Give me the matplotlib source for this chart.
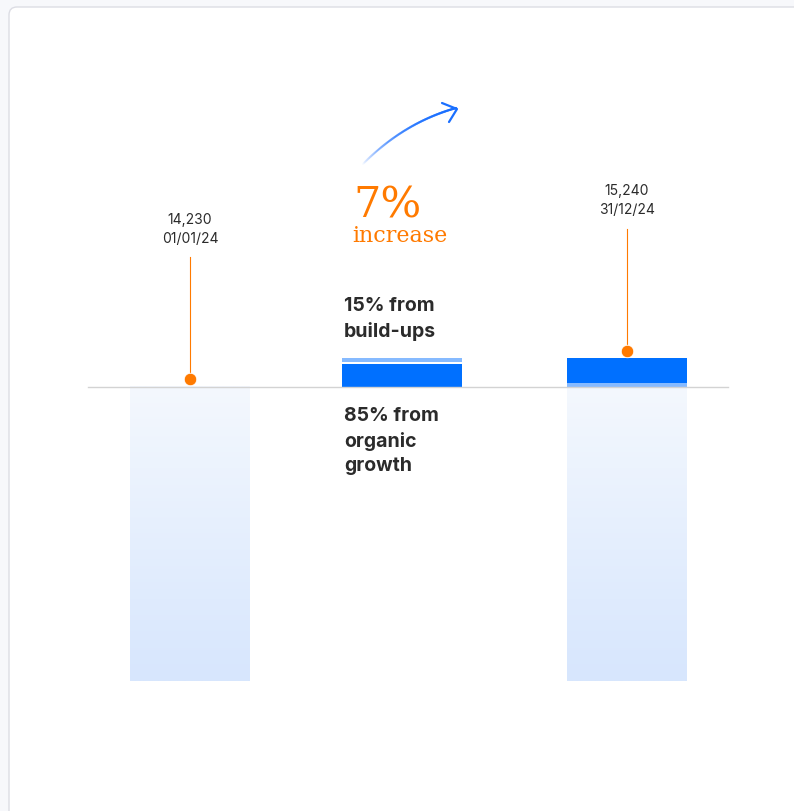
import numpy as np
import matplotlib.pyplot as plt
from matplotlib.collections import LineCollection
from matplotlib.patches import FancyBboxPatch
from matplotlib.colors import LinearSegmentedColormap, to_rgba

# data
start_value = 14230
end_value = 15240
dates = ['01/01/24', '31/12/24']
increase_pct = 7
buildup_pct = 15
organic_pct = 85

# styles / layout (pixels)
W, H = 794, 811
BLUE = '#0070ff'
LIGHT_BLUE = '#86baff'
ORANGE = '#ff7a00'
TEXT = '#2b2b2b'
SANS = 'Inter'
bar_x = [190, 402, 627]        # centres: start, change, end
bar_w = 120
baseline_px = 387
floor_px = 681
px_per_unit = 28.5 / (end_value - start_value)

fig = plt.figure(figsize=(W / 100, H / 100), dpi=100)
fig.patch.set_facecolor('#f7f8fb')

# pixel canvas for card and decorations
bg = fig.add_axes([0, 0, 1, 1])
bg.set_xlim(0, W)
bg.set_ylim(H, 0)
bg.axis('off')
bg.add_patch(FancyBboxPatch((9, 7), 900, 900, boxstyle='round,pad=0,rounding_size=8',
                            fc='white', ec='#dcdde4', lw=1))

ax = fig.add_axes([0, 0, 1, 1])
ax.patch.set_alpha(0)
ax.axis('off')


def px(n):
    return n / px_per_unit


floor_value = start_value - px(floor_px - baseline_px)
change = end_value - start_value
organic = change * organic_pct / 100
buildup = change * buildup_pct / 100

# truncated base bars with gradient
cmap = LinearSegmentedColormap.from_list('fade', ['#f4f8fe', '#d7e6fd'])
grad = np.linspace(0, 1, 256).reshape(-1, 1)
for x in (bar_x[0], bar_x[2]):
    ax.imshow(grad, cmap=cmap, aspect='auto', origin='upper',
              extent=[x - bar_w / 2, x + bar_w / 2, floor_value, start_value], zorder=1)

# change bar (middle): organic then build-ups on top
ax.bar(bar_x[1], organic - px(1), bottom=start_value, width=bar_w, color=BLUE, zorder=2)
ax.bar(bar_x[1], buildup - px(1), bottom=start_value + organic + px(1), width=bar_w,
       color=LIGHT_BLUE, zorder=2)

# end bar: build-ups at the bottom, organic on top
ax.bar(bar_x[2], buildup, bottom=start_value, width=bar_w, color=LIGHT_BLUE, zorder=2)
ax.bar(bar_x[2], organic, bottom=start_value + buildup, width=bar_w, color=BLUE, zorder=2)

# baseline
ax.plot([88, 728], [start_value, start_value], color='#d3d3d3', lw=1, zorder=3)

# value markers with labels
for x, v, d in [(bar_x[0], start_value, dates[0]), (bar_x[2], end_value, dates[1])]:
    dot = v + px(8)
    top = dot + px(122)
    ax.plot([x, x], [dot, top], color=ORANGE, lw=0.8, zorder=4)
    ax.plot(x, dot, 'o', color=ORANGE, ms=9, mec='white', mew=0.6, zorder=5)
    ax.text(x, top + px(18), d, ha='center', va='center', fontsize=10,
            family=SANS, color=TEXT)
    ax.text(x, top + px(37), f'{v:,}', ha='center', va='center', fontsize=10,
            family=SANS, color=TEXT)

# middle annotations
tx = bar_x[1] - bar_w / 2 + 2
ax.text(tx, start_value + px(68), f'{buildup_pct}% from\nbuild-ups', ha='left', va='center',
        fontsize=14, family=SANS, weight='bold', color=TEXT, linespacing=1.45)
ax.text(tx, start_value - px(54), f'{organic_pct}% from\norganic\ngrowth', ha='left',
        va='center', fontsize=14, family=SANS, weight='bold', color=TEXT, linespacing=1.45)

ax.set_xlim(0, W)
ax.set_ylim(start_value - px(H - baseline_px), start_value + px(baseline_px))

# headline
bg.text(353, 218, f'{increase_pct}%', ha='left', va='baseline', fontsize=31,
        family='DejaVu Serif', color=ORANGE)
bg.text(352, 242, 'increase', ha='left', va='baseline', fontsize=16,
        family='DejaVu Serif', color=ORANGE)

# gradient curved arrow
t = np.linspace(0, 1, 80)
p0, p1, p2 = np.array([362, 165]), np.array([403, 123]), np.array([456, 108])
pts = ((1 - t) ** 2)[:, None] * p0 + (2 * (1 - t) * t)[:, None] * p1 + (t ** 2)[:, None] * p2
segs = np.stack([pts[:-1], pts[1:]], axis=1)
base = np.array(to_rgba('#1a6fff'))
cols = np.tile(base, (len(segs), 1))
cols[:, 3] = np.linspace(0.0, 1.0, len(segs)) ** 0.8
bg.add_collection(LineCollection(segs, colors=cols, lw=1.6, capstyle='round'))
bg.plot([442, 457, 449], [103, 109, 122], color='#1a6fff', lw=1.6,
        solid_capstyle='round', solid_joinstyle='round')

fig.savefig('out.png', dpi=100, facecolor=fig.get_facecolor())
